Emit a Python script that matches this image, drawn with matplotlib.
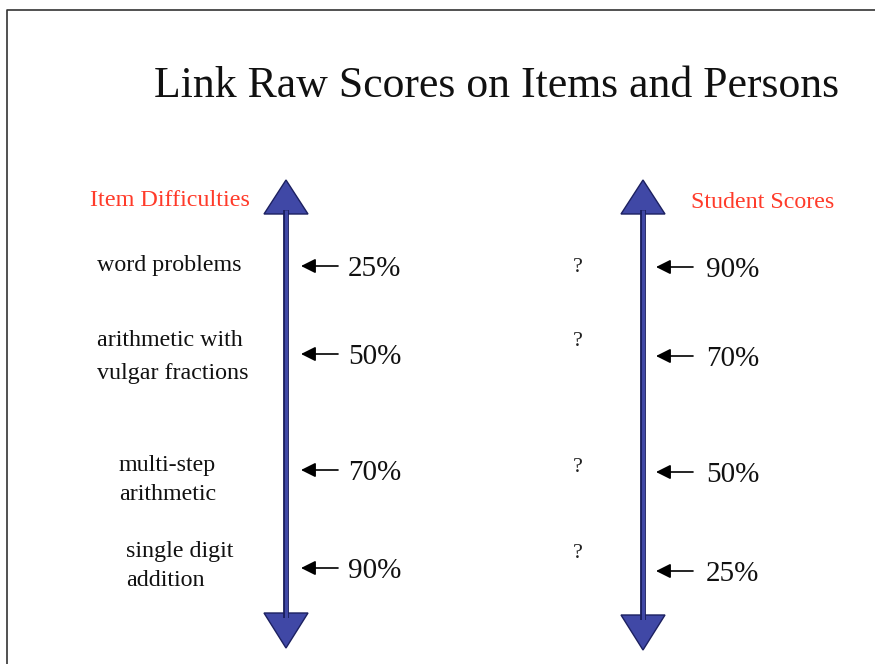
import matplotlib.pyplot as plt
from matplotlib.patches import Polygon

# data
title = "Link Raw Scores on Items and Persons"
left_header = "Item Difficulties"
right_header = "Student Scores"
items = ["word problems", "arithmetic with\nvulgar fractions",
         "multi-step\narithmetic", "single digit\naddition"]
item_pcts = ["25%", "50%", "70%", "90%"]
student_pcts = ["90%", "70%", "50%", "25%"]

# layout (pixel coords, y down)
left_rows = [266, 354, 470, 568]
right_rows = [267, 356, 472, 571]
label_x = [97, 97, 119, 126]
label_lines_y = [[265], [341, 374], [465, 494], [552, 580]]
q_y = [267, 342, 467, 554]

BLUE = "#4048a6"
EDGE = "#1c2060"
RED = "#ff3b2a"
plt.rcParams['font.family'] = ['Liberation Serif', 'DejaVu Serif']

fig = plt.figure(figsize=(8.75, 6.64), dpi=100)
ax = fig.add_axes([0, 0, 1, 1])
ax.set_xlim(0, 875)
ax.set_ylim(664, 0)
ax.axis('off')

# slide border
ax.plot([7, 7, 875], [664, 10, 10], color='#333333', lw=1.2)

ax.text(497, 86, title, fontsize=31.5, ha='center', va='center', color='#111111')


def axis_arrow(x, top, bot):
    ax.plot([x, x], [top + 30, bot - 30], color=EDGE, lw=4.2, solid_capstyle='butt')
    ax.plot([x, x], [top + 30, bot - 30], color=BLUE, lw=2.2, solid_capstyle='butt')
    ax.add_patch(Polygon([[x - 22, top + 34], [x + 22, top + 34], [x, top]],
                         closed=True, fc=BLUE, ec=EDGE, lw=1))
    ax.add_patch(Polygon([[x - 22, bot - 35], [x + 22, bot - 35], [x, bot]],
                         closed=True, fc=BLUE, ec=EDGE, lw=1))


axis_arrow(286, 180, 648)
axis_arrow(643, 180, 650)

ax.text(90, 200, left_header, fontsize=17.4, color=RED, ha='left', va='center')
ax.text(691, 202, right_header, fontsize=17.3, color=RED, ha='left', va='center')

for lab, lx, ys in zip(items, label_x, label_lines_y):
    for line, ly in zip(lab.split('\n'), ys):
        ax.text(lx, ly, line, fontsize=17.3, ha='left', va='center', color='#111111')

for y, p in zip(left_rows, item_pcts):
    ax.annotate('', xy=(301, y), xytext=(338, y),
                arrowprops=dict(arrowstyle='-|>', color='black', lw=1.2,
                                mutation_scale=22, shrinkA=0, shrinkB=0))
    ax.text(348, y + 3, p, fontsize=21, ha='left', va='center', color='#111111')

for y, p in zip(right_rows, student_pcts):
    ax.annotate('', xy=(656, y), xytext=(693, y),
                arrowprops=dict(arrowstyle='-|>', color='black', lw=1.2,
                                mutation_scale=22, shrinkA=0, shrinkB=0))
    ax.text(706, y + 3, p, fontsize=21, ha='left', va='center', color='#111111')

for y in q_y:
    ax.text(578, y, '?', fontsize=16, ha='center', va='center', color='#222222')

fig.savefig('out.png', dpi=100)
